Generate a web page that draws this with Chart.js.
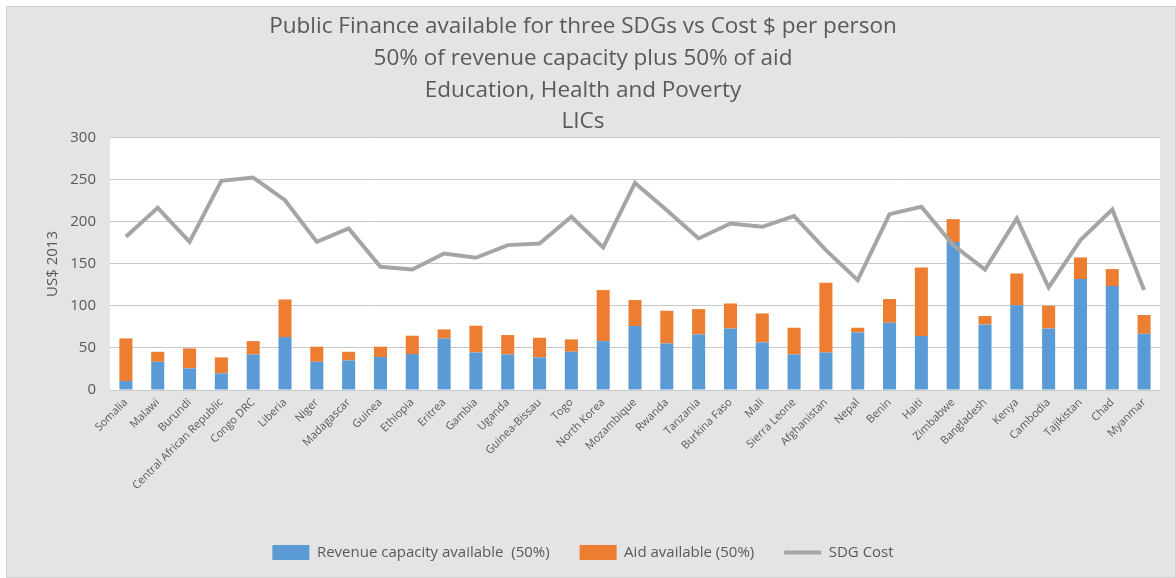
<!DOCTYPE html>
<html>
<head>
<meta charset="utf-8">
<script src="https://cdn.jsdelivr.net/npm/chart.js@4/dist/chart.umd.min.js"></script>
<style>
  html, body { margin: 0; padding: 0; background: #fff; }
  #wrap { width: 1176px; height: 578px; position: relative; }
</style>
</head>
<body>
<div id="wrap"><canvas id="chart" width="1176" height="578"></canvas></div>
<script>
const countries = ['Somalia', 'Malawi', 'Burundi', 'Central African Republic', 'Congo DRC', 'Liberia', 'Niger',
  'Madagascar', 'Guinea', 'Ethiopia', 'Eritrea', 'Gambia', 'Uganda', 'Guinea-Bissau', 'Togo', 'North Korea',
  'Mozambique', 'Rwanda', 'Tanzania', 'Burkina Faso', 'Mali', 'Sierra Leone', 'Afghanistan', 'Nepal', 'Benin',
  'Haiti', 'Zimbabwe', 'Bangladesh', 'Kenya', 'Cambodia', 'Tajikistan', 'Chad', 'Myanmar'];

// revenue capacity available (50%)
const revenue = [10.7, 33.6, 25.7, 19.8, 42.4, 63, 33.6, 35.2, 39.2, 42.8, 61.4, 44.7, 42.4, 38.8, 45.5, 58.2,
  76.1, 55.4, 66.1, 73.2, 56.6, 42.4, 44.7, 68.5, 80, 64.2, 176, 78, 101, 73.2, 132, 123.7, 66.9];

// aid available (50%)
const aid = [50.7, 11.9, 23.8, 19, 15.8, 44.7, 17.9, 10.3, 12.3, 21.8, 10.7, 31.8, 23, 23.4, 14.7, 60.7,
  30.9, 38.9, 30.2, 29.8, 34.5, 31.7, 82.9, 5.6, 28.2, 81.6, 27.3, 10, 37.6, 27, 25.7, 20.2, 22.3];

// SDG cost per person
const sdgCost = [182.3, 216.8, 176.3, 248.9, 252.8, 225.9, 176.3, 192.2, 146.6, 143.4, 162.4, 157.3, 172.4,
  174.3, 206.1, 169.6, 246.5, 214, 180.3, 198.1, 194.2, 206.9, 166.5, 130.8, 209.3, 218, 172.4, 143.4, 204,
  122, 178.4, 214.7, 118.9];

const titleLines = ['Public Finance available for three SDGs vs Cost $ per person',
  '50% of revenue capacity plus 50% of aid', 'Education, Health and Poverty', 'LICs'];

const textGrey = '#595959';
const font = "'Open Sans', sans-serif";

// paint the grey chart box and the white plot area
const background = {
  id: 'background',
  beforeDraw(chart) {
    const ctx = chart.ctx;
    const a = chart.chartArea;
    ctx.save();
    ctx.fillStyle = '#ffffff';
    ctx.fillRect(0, 0, chart.width, chart.height);
    ctx.fillStyle = '#e4e4e4';
    ctx.fillRect(6, 6, chart.width - 6, chart.height - 6);
    ctx.strokeStyle = '#d2d2d2';
    ctx.lineWidth = 1;
    ctx.strokeRect(6.5, 6.5, chart.width - 7, chart.height - 7);
    ctx.fillStyle = '#ffffff';
    ctx.fillRect(a.left, a.top, a.right - a.left, a.bottom - a.top);
    ctx.restore();
  }
};

new Chart(document.getElementById('chart'), {
  type: 'bar',
  data: {
    labels: countries,
    datasets: [
      {
        label: 'Revenue capacity available  (50%)',
        data: revenue,
        backgroundColor: '#5b9bd5',
        stack: 'finance',
        order: 1,
        pointStyle: 'rect'
      },
      {
        label: 'Aid available (50%)',
        data: aid,
        backgroundColor: '#ed7d31',
        stack: 'finance',
        order: 1,
        pointStyle: 'rect'
      },
      {
        type: 'line',
        label: 'SDG Cost',
        data: sdgCost,
        borderColor: '#a5a5a5',
        backgroundColor: '#a5a5a5',
        borderWidth: 4,
        pointRadius: 0,
        pointStyle: 'line',
        tension: 0,
        stack: 'cost',
        order: 0
      }
    ]
  },
  options: {
    responsive: false,
    animation: false,
    layout: { padding: { left: 6, top: 6, right: 16, bottom: 8 } },
    datasets: {
      bar: { categoryPercentage: 1, barPercentage: 0.41 }
    },
    plugins: {
      title: {
        display: true,
        text: titleLines,
        color: textGrey,
        font: { family: font, size: 22.5, weight: 'normal', lineHeight: 1.41 },
        padding: { top: 5, bottom: 0 }
      },
      legend: {
        position: 'bottom',
        labels: {
          color: textGrey,
          font: { family: font, size: 15 },
          usePointStyle: true,
          pointStyleWidth: 37,
          boxHeight: 16,
          padding: 30,
          sort: (a, b) => a.datasetIndex - b.datasetIndex
        }
      },
      tooltip: { enabled: false }
    },
    scales: {
      x: {
        stacked: true,
        grid: { display: false, drawTicks: false },
        border: { display: false },
        ticks: {
          color: textGrey,
          font: { family: font, size: 11 },
          minRotation: 45,
          maxRotation: 45,
          autoSkip: false,
          padding: 6
        },
        afterFit(scale) { scale.height = 125; }
      },
      y: {
        stacked: true,
        min: 0,
        max: 300,
        grid: { color: '#c8c8c8', drawTicks: false },
        border: { display: false },
        ticks: {
          stepSize: 50,
          color: textGrey,
          font: { family: font, size: 15 },
          padding: 14
        },
        title: {
          display: true,
          text: 'US$ 2013',
          color: textGrey,
          font: { family: font, size: 15 },
          padding: { top: 38, bottom: 0 }
        },
        afterFit(scale) { scale.width = 104; }
      }
    }
  },
  plugins: [background]
});
</script>
</body>
</html>
